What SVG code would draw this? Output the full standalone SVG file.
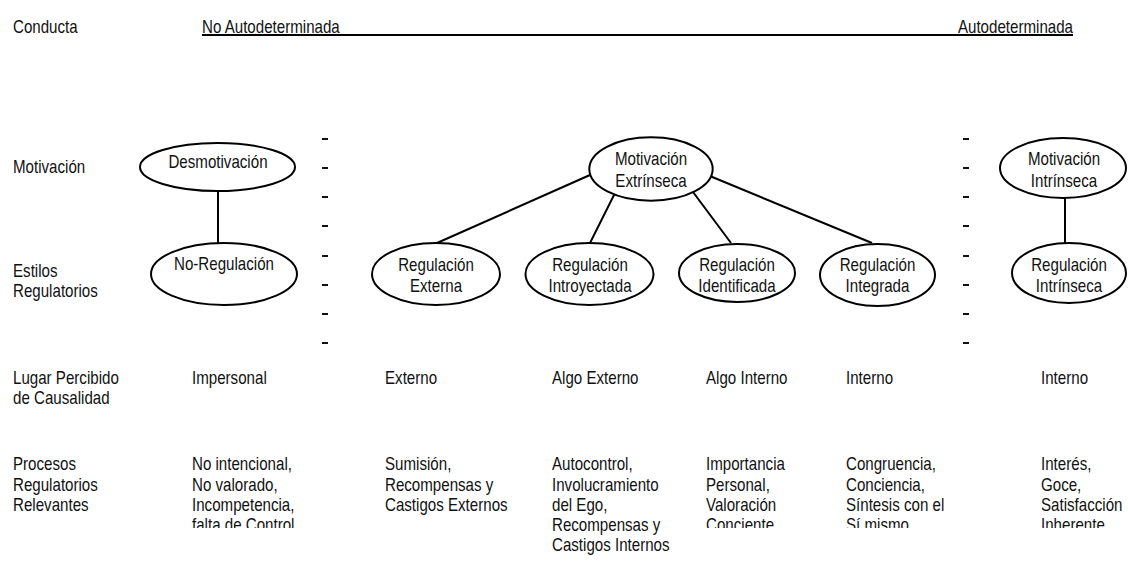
<svg xmlns="http://www.w3.org/2000/svg" width="1128" height="578" viewBox="0 0 1128 578">
<defs>
<style>
text{font-family:"Liberation Sans Narrow","Liberation Sans",Arial,sans-serif;font-size:18px;fill:#111;}
.c{text-anchor:middle;}
.e{text-anchor:end;}
.node ellipse{fill:#fff;stroke:#000;stroke-width:2;}
.conn line{stroke:#000;stroke-width:2;}
.dash line{stroke:#111;stroke-width:2;}
</style>
<clipPath id="clip4"><rect x="0" y="0" width="1128" height="528"/></clipPath>
</defs>
<rect width="1128" height="578" fill="#fff"/>

<g id="header">
<text transform="translate(13,33) scale(.84,1)">Conducta</text>
<text transform="translate(202,33) scale(.84,1)">No Autodeterminada</text>
<text class="e" transform="translate(1073,33) scale(.84,1)">Autodeterminada</text>
<line x1="202" y1="35" x2="1073" y2="35" stroke="#000" stroke-width="2"/>
</g>

<g id="row-labels">
<text transform="translate(13,173) scale(.84,1)">Motivación</text>
<text transform="translate(13,277) scale(.84,1)">Estilos</text>
<text transform="translate(13,297) scale(.84,1)">Regulatorios</text>
<text transform="translate(13,384) scale(.84,1)">Lugar Percibido</text>
<text transform="translate(13,404) scale(.84,1)">de Causalidad</text>
<text transform="translate(13,470) scale(.84,1)">Procesos</text>
<text transform="translate(13,491) scale(.84,1)">Regulatorios</text>
<text transform="translate(13,511) scale(.84,1)">Relevantes</text>
</g>

<g class="dash" id="dividers">
<line x1="322" y1="139" x2="328" y2="139"/><line x1="322" y1="168" x2="328" y2="168"/>
<line x1="322" y1="197" x2="328" y2="197"/><line x1="322" y1="226" x2="328" y2="226"/>
<line x1="322" y1="256" x2="328" y2="256"/><line x1="322" y1="285" x2="328" y2="285"/>
<line x1="322" y1="314" x2="328" y2="314"/><line x1="322" y1="343" x2="328" y2="343"/>
<line x1="963" y1="139" x2="969" y2="139"/><line x1="963" y1="168" x2="969" y2="168"/>
<line x1="963" y1="197" x2="969" y2="197"/><line x1="963" y1="226" x2="969" y2="226"/>
<line x1="963" y1="256" x2="969" y2="256"/><line x1="963" y1="285" x2="969" y2="285"/>
<line x1="963" y1="314" x2="969" y2="314"/><line x1="963" y1="343" x2="969" y2="343"/>
</g>

<g class="conn" id="connectors">
<line x1="218" y1="191" x2="218" y2="243"/>
<line x1="590" y1="175" x2="437" y2="243"/>
<line x1="616" y1="191" x2="590" y2="243"/>
<line x1="693" y1="192" x2="731" y2="243"/>
<line x1="705" y1="174" x2="872" y2="243"/>
<line x1="1065" y1="192" x2="1065" y2="243"/>
</g>

<g class="node" id="desmotivacion">
<ellipse cx="217.5" cy="167" rx="77.5" ry="24"/>
<text class="c" transform="translate(218,168) scale(.84,1)">Desmotivación</text>
</g>
<g class="node" id="no-regulacion">
<ellipse cx="224" cy="274" rx="73" ry="31"/>
<text class="c" transform="translate(224,270) scale(.84,1)">No-Regulación</text>
</g>
<g class="node" id="motivacion-extrinseca">
<ellipse cx="651" cy="169" rx="61.7" ry="31.7"/>
<text class="c" transform="translate(651,165) scale(.84,1)">Motivación</text>
<text class="c" transform="translate(651,187) scale(.84,1)">Extrínseca</text>
</g>
<g class="node" id="regulacion-externa">
<ellipse cx="436" cy="274" rx="64" ry="31"/>
<text class="c" transform="translate(436,271) scale(.84,1)">Regulación</text>
<text class="c" transform="translate(436,292) scale(.84,1)">Externa</text>
</g>
<g class="node" id="regulacion-introyectada">
<ellipse cx="589.5" cy="274" rx="64" ry="31"/>
<text class="c" transform="translate(590,271) scale(.84,1)">Regulación</text>
<text class="c" transform="translate(590,292) scale(.84,1)">Introyectada</text>
</g>
<g class="node" id="regulacion-identificada">
<ellipse cx="737" cy="273" rx="58" ry="29"/>
<text class="c" transform="translate(737,271) scale(.84,1)">Regulación</text>
<text class="c" transform="translate(737,292) scale(.84,1)">Identificada</text>
</g>
<g class="node" id="regulacion-integrada">
<ellipse cx="877.5" cy="275" rx="57.5" ry="31"/>
<text class="c" transform="translate(877.5,271) scale(.84,1)">Regulación</text>
<text class="c" transform="translate(877.5,292) scale(.84,1)">Integrada</text>
</g>
<g class="node" id="motivacion-intrinseca">
<ellipse cx="1063" cy="168" rx="63" ry="30"/>
<text class="c" transform="translate(1064,165) scale(.84,1)">Motivación</text>
<text class="c" transform="translate(1064,187) scale(.84,1)">Intrínseca</text>
</g>
<g class="node" id="regulacion-intrinseca">
<ellipse cx="1069" cy="273" rx="57" ry="30"/>
<text class="c" transform="translate(1069,271) scale(.84,1)">Regulación</text>
<text class="c" transform="translate(1069,292) scale(.84,1)">Intrínseca</text>
</g>

<g id="causalidad">
<text transform="translate(192,384) scale(.84,1)">Impersonal</text>
<text transform="translate(385,384) scale(.84,1)">Externo</text>
<text transform="translate(552,384) scale(.84,1)">Algo Externo</text>
<text transform="translate(706,384) scale(.84,1)">Algo Interno</text>
<text transform="translate(846,384) scale(.84,1)">Interno</text>
<text transform="translate(1041,384) scale(.84,1)">Interno</text>
</g>

<g id="procesos">
<g clip-path="url(#clip4)">
<text transform="translate(192,470) scale(.84,1)">No intencional,</text>
<text transform="translate(192,491) scale(.84,1)">No valorado,</text>
<text transform="translate(192,511) scale(.84,1)">Incompetencia,</text>
<text transform="translate(192,531) scale(.84,1)">falta de Control</text>
<text transform="translate(706,470) scale(.84,1)">Importancia</text>
<text transform="translate(706,491) scale(.84,1)">Personal,</text>
<text transform="translate(706,511) scale(.84,1)">Valoración</text>
<text transform="translate(706,531) scale(.84,1)">Conciente</text>
<text transform="translate(846,470) scale(.84,1)">Congruencia,</text>
<text transform="translate(846,491) scale(.84,1)">Conciencia,</text>
<text transform="translate(846,511) scale(.84,1)">Síntesis con el</text>
<text transform="translate(846,531) scale(.84,1)">Sí mismo</text>
<text transform="translate(1041,470) scale(.84,1)">Interés,</text>
<text transform="translate(1041,491) scale(.84,1)">Goce,</text>
<text transform="translate(1041,511) scale(.84,1)">Satisfacción</text>
<text transform="translate(1041,531) scale(.84,1)">Inherente</text>
</g>
<text transform="translate(385,470) scale(.84,1)">Sumisión,</text>
<text transform="translate(385,491) scale(.84,1)">Recompensas y</text>
<text transform="translate(385,511) scale(.84,1)">Castigos Externos</text>
<text transform="translate(552,470) scale(.84,1)">Autocontrol,</text>
<text transform="translate(552,491) scale(.84,1)">Involucramiento</text>
<text transform="translate(552,511) scale(.84,1)">del Ego,</text>
<text transform="translate(552,531) scale(.84,1)">Recompensas y</text>
<text transform="translate(552,551) scale(.84,1)">Castigos Internos</text>
</g>
</svg>
